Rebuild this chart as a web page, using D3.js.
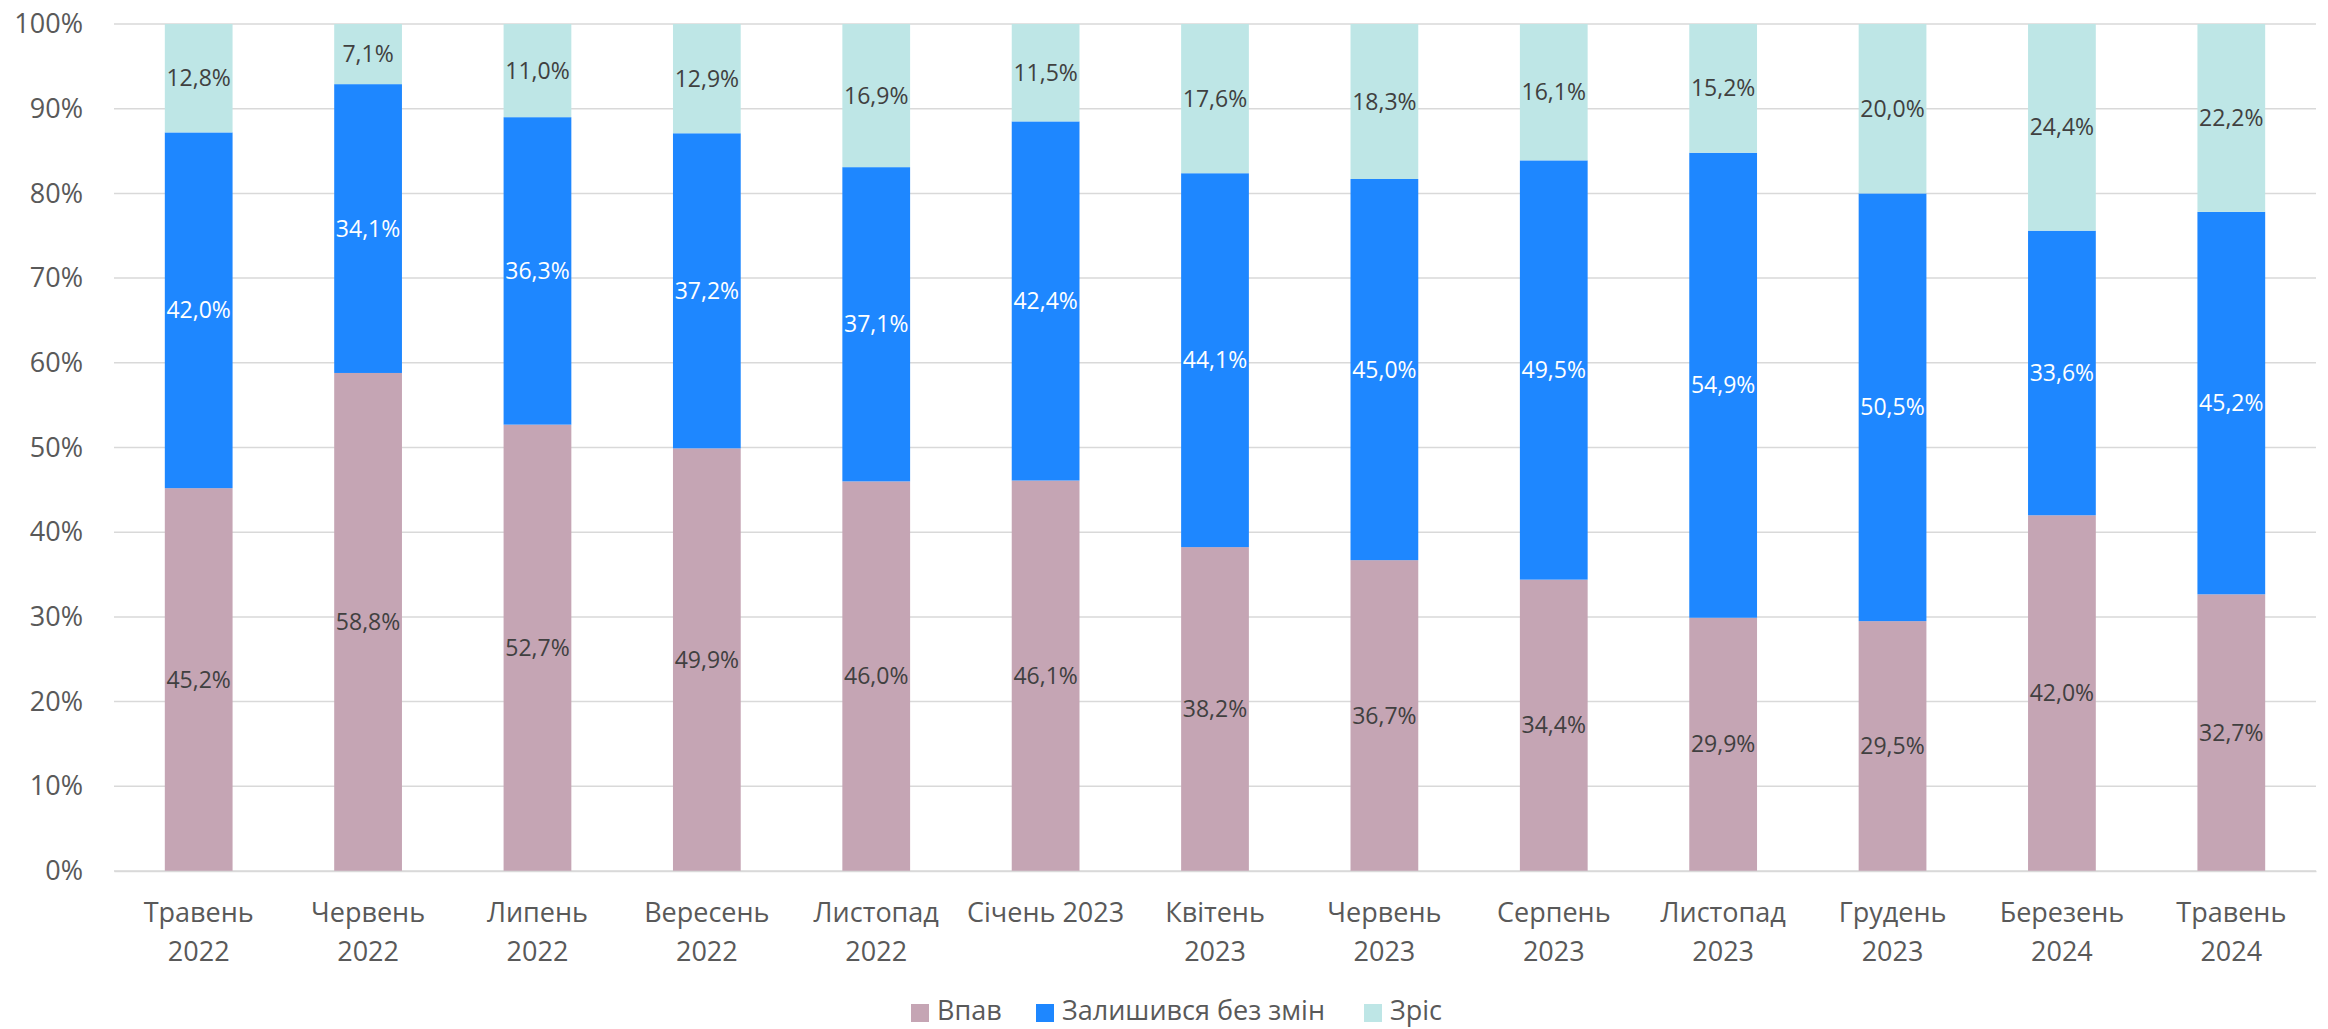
<!DOCTYPE html>
<html>
<head>
<meta charset="utf-8">
<script src="https://cdn.jsdelivr.net/npm/d3@7"></script>
<style>
  body { margin: 0; background: #fff; }
  text { font-family: "Open Sans", sans-serif; }
</style>
</head>
<body>
<svg id="chart"></svg>
<script>
// Categories (x axis), one entry per bar; "\n" splits the label onto two lines
const categories = [
  "Травень\n2022", "Червень\n2022", "Липень\n2022", "Вересень\n2022", "Листопад\n2022",
  "Січень 2023", "Квітень\n2023", "Червень\n2023", "Серпень\n2023", "Листопад\n2023",
  "Грудень\n2023", "Березень\n2024", "Травень\n2024"
];

// Series values, percent
const fell      = [45.2, 58.8, 52.7, 49.9, 46.0, 46.1, 38.2, 36.7, 34.4, 29.9, 29.5, 42.0, 32.7];
const unchanged = [42.0, 34.1, 36.3, 37.2, 37.1, 42.4, 44.1, 45.0, 49.5, 54.9, 50.5, 33.6, 45.2];
const grew      = [12.8,  7.1, 11.0, 12.9, 16.9, 11.5, 17.6, 18.3, 16.1, 15.2, 20.0, 24.4, 22.2];

const seriesNames = ["Впав", "Залишився без змін", "Зріс"];
const yTicks = [0, 0.1, 0.2, 0.3, 0.4, 0.5, 0.6, 0.7, 0.8, 0.9, 1.0];

const width = 2328, height = 1029;
const margin = { top: 24, right: 12, bottom: 158, left: 114 };
const colors = ["#C5A5B4", "#1E87FF", "#BEE6E6"];
const labelColors = ["#404040", "#FFFFFF", "#404040"];

// build table for the stack, normalised like a 100% stacked chart
const table = categories.map((c, i) => ({
  cat: c,
  "Впав": fell[i],
  "Залишився без змін": unchanged[i],
  "Зріс": grew[i]
}));

const stacked = d3.stack()
  .keys(seriesNames)
  .offset(d3.stackOffsetExpand)(table);

const svg = d3.select("#chart")
  .attr("width", width)
  .attr("height", height);

const innerW = width - margin.left - margin.right;
const innerH = height - margin.top - margin.bottom;

const g = svg.append("g")
  .attr("transform", `translate(${margin.left},${margin.top})`);

const x = d3.scaleBand()
  .domain(categories)
  .range([0, innerW])
  .paddingInner(0.6)
  .paddingOuter(0.3);

const y = d3.scaleLinear()
  .domain([0, 1])
  .range([innerH, 0]);

// Gridlines
g.append("g")
  .attr("class", "grid")
  .selectAll("line")
  .data(yTicks)
  .join("line")
  .attr("x1", 0)
  .attr("x2", innerW)
  .attr("y1", d => y(d))
  .attr("y2", d => y(d))
  .attr("stroke", "#D9D9D9")
  .attr("stroke-width", 1.5);

// Y axis labels
const yAxis = g.append("g")
  .call(d3.axisLeft(y).tickValues(yTicks).tickFormat(d3.format(".0%")).tickSize(0).tickPadding(31));
yAxis.select(".domain").remove();
yAxis.selectAll("text")
  .attr("font-size", 27)
  .attr("fill", "#595959")
  .attr("font-family", "'Open Sans', sans-serif");

// Bars
const layers = g.selectAll(".layer")
  .data(stacked)
  .join("g")
  .attr("class", "layer")
  .attr("fill", (d, i) => colors[i]);

layers.selectAll("rect")
  .data(d => d)
  .join("rect")
  .attr("x", d => x(d.data.cat))
  .attr("y", d => y(d[1]))
  .attr("width", x.bandwidth())
  .attr("height", d => y(d[0]) - y(d[1]));

// Data labels
const fmt = v => v.toFixed(1).replace(".", ",") + "%";
layers.each(function(layer, li) {
  d3.select(this).selectAll("text")
    .data(layer)
    .join("text")
    .attr("x", d => x(d.data.cat) + x.bandwidth() / 2)
    .attr("y", d => (y(d[0]) + y(d[1])) / 2)
    .attr("dy", "0.35em")
    .attr("text-anchor", "middle")
    .attr("font-size", 23)
    .attr("fill", labelColors[li])
    .text(d => fmt(d.data[layer.key]));
});

// X axis
const xAxis = g.append("g")
  .attr("transform", `translate(0,${innerH})`)
  .call(d3.axisBottom(x).tickSize(0).tickFormat(""));
xAxis.select(".domain").attr("stroke", "#D9D9D9").attr("stroke-width", 1.5);

xAxis.selectAll(".tick").each(function(d) {
  const lines = d.split("\n");
  const t = d3.select(this).append("text")
    .attr("text-anchor", "middle")
    .attr("font-size", 27)
    .attr("fill", "#595959")
    .attr("y", 51);
  lines.forEach((ln, k) => {
    t.append("tspan").attr("x", 0).attr("dy", k === 0 ? 0 : 39).text(ln);
  });
});

// Legend (sits right at the bottom edge, like the original)
const legendX = [911, 1036, 1364];
const legend = svg.append("g").attr("class", "legend");
seriesNames.forEach((name, i) => {
  const item = legend.append("g").attr("transform", `translate(${legendX[i]},1012)`);
  item.append("rect")
    .attr("x", 0).attr("y", -8)
    .attr("width", 18).attr("height", 18)
    .attr("fill", colors[i]);
  item.append("text")
    .attr("x", 26)
    .attr("y", 8)
    .attr("font-size", 27)
    .attr("fill", "#595959")
    .text(name);
});
</script>
</body>
</html>
